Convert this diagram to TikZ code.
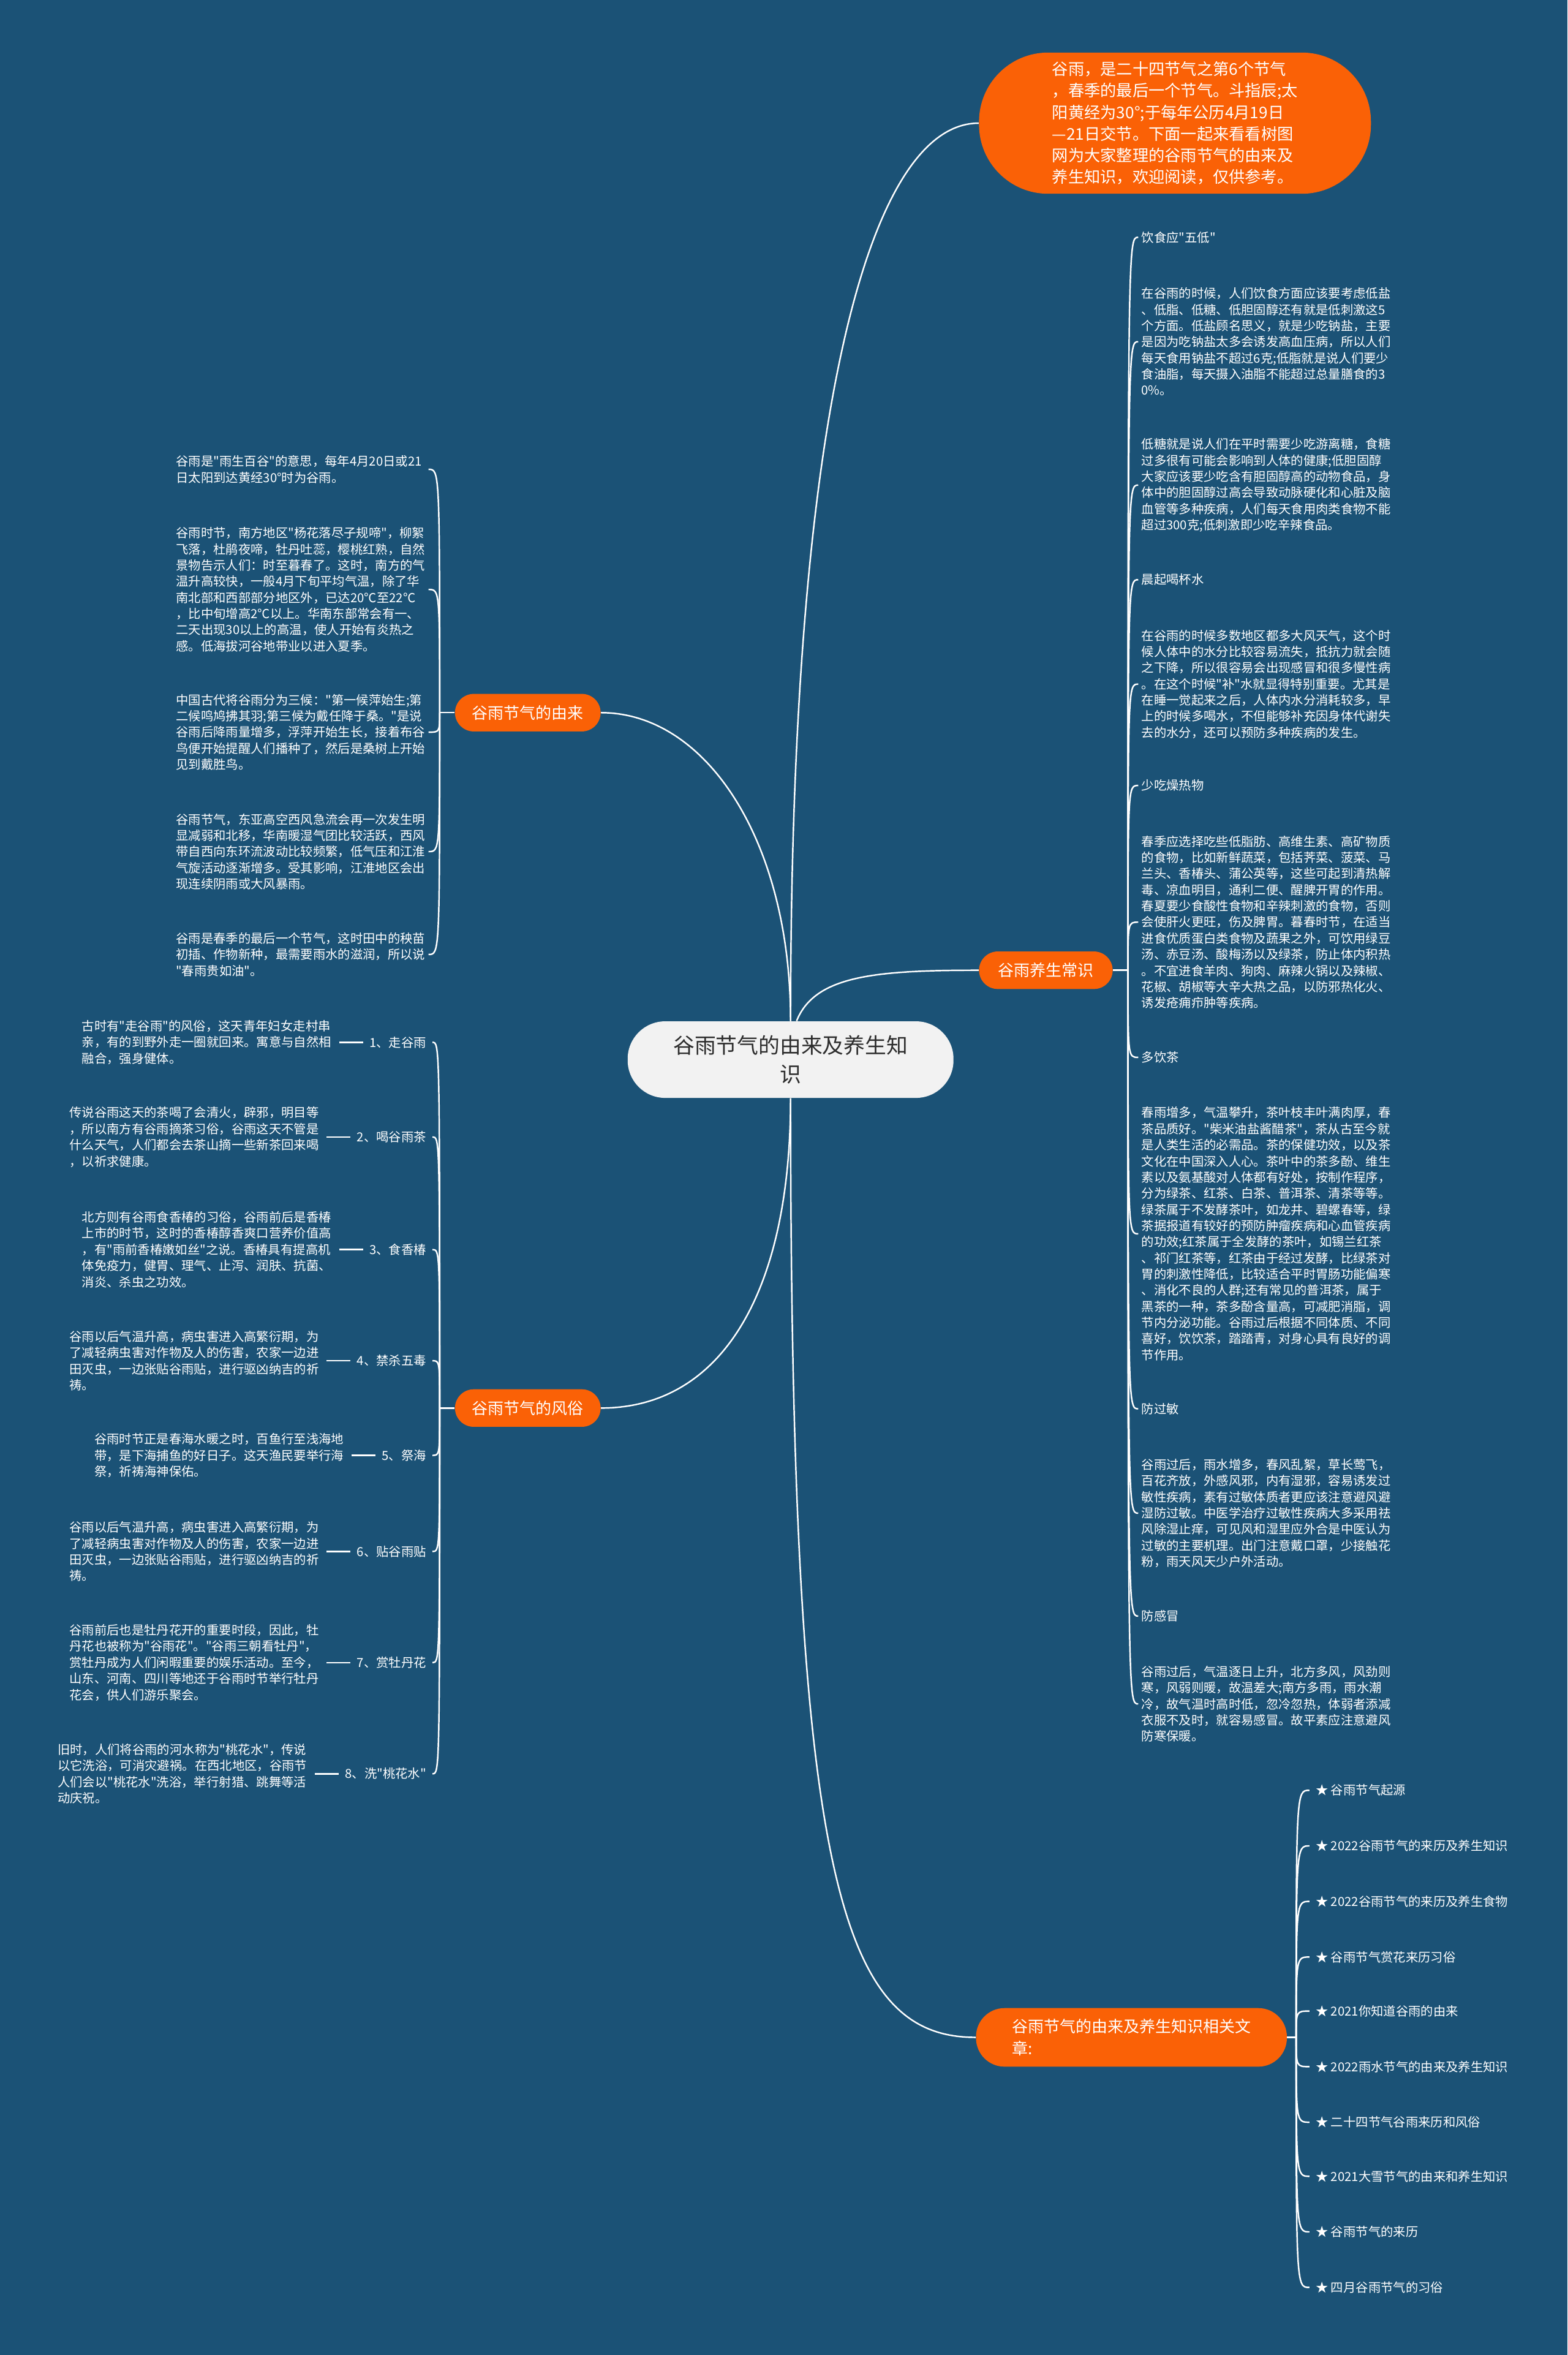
\documentclass[tikz,border=0pt]{standalone}
\usepackage{fontspec}
\setmainfont{Noto Sans CJK SC}[Ligatures=TeXOff]
\usetikzlibrary{positioning}

\definecolor{mapblue}{RGB}{27,82,118}
\definecolor{maporange}{RGB}{250,97,6}
\definecolor{rootfill}{RGB}{242,242,242}
\definecolor{roottext}{RGB}{45,45,45}

\begin{document}
\begin{tikzpicture}[
    x=1pt, y=-1pt,
    link/.style={draw=white, line width=1pt},
    elbow/.style={to path={.. controls (\tikztostart |- \tikztotarget) .. (\tikztotarget)}},
    root/.style={fill=rootfill, text=roottext, rounded corners=25pt, minimum width=217pt, minimum height=51pt, align=center, font=\fontsize{14.2}{19}\selectfont},
    branch/.style={fill=maporange, text=white, rounded corners=12.5pt, minimum width=97pt, minimum height=25pt, font=\fontsize{10.6}{14.4}\selectfont},
    para/.style={text=white, align=left, text width=166pt, inner xsep=2pt, inner ysep=1pt, font=\fontsize{8.3}{10.75}\selectfont},
    tag/.style={text=white, inner xsep=4pt, inner ysep=1pt, font=\fontsize{8.3}{10.75}\selectfont},
    story/.style={text=white, align=left, inner xsep=5pt, inner ysep=1pt, font=\fontsize{8.3}{10.8}\selectfont}
  ]
    \fill[mapblue] (0,0) rectangle (1044,1568);
    \useasboundingbox (0,0) rectangle (1044,1568);

    % main topic and branches
    \node[root] (root) at (526.5,705.5) {谷雨节气的由来及养生知\\识};
    \node[branch, minimum width=261pt, minimum height=94pt, rounded corners=46pt, align=left, font=\fontsize{10.7}{14.4}\selectfont] (intro) at (782.5,82) {谷雨，是二十四节气之第6个节气\\，春季的最后一个节气。斗指辰;太\\阳黄经为30°;于每年公历4月19日\\—21日交节。下面一起来看看树图\\网为大家整理的谷雨节气的由来及\\养生知识，欢迎阅读，仅供参考。};
    \node[branch] (origin) at (351.5,474.5) {谷雨节气的由来};
    \node[branch, minimum width=89pt] (care) at (696.5,646) {谷雨养生常识};
    \node[branch] (custom) at (351.5,937.5) {谷雨节气的风俗};
    \node[branch, minimum width=207pt, minimum height=39pt, rounded corners=19pt, align=left, font=\fontsize{10.6}{15}\selectfont] (related) at (753.5,1356.5) {谷雨节气的由来及养生知识相关文\\章:};

    \coordinate[left=10pt of origin] (j1);
    \coordinate[right=10pt of care] (j2);
    \coordinate[right=6pt of related] (j3);
    \coordinate[left=10pt of custom] (j4);

    \draw[link] (root.north) .. controls +(0,-420) and +(-70,0) .. (intro.west);
    \draw[link] (root.north) .. controls +(0,-120) and +(70,0) .. (origin.east);
    \draw[link] ([xshift=4pt]root.north) .. controls +(12,-30) and +(-70,0) .. (care.west);
    \draw[link] (root.south) .. controls +(0,130) and +(80,0) .. (custom.east);
    \draw[link] (root.south) .. controls +(0,520) and +(-90,0) .. (related.west);

    \draw[link] (origin) -- (j1);
    \draw[link] (care) -- (j2);
    \draw[link] (related) -- (j3);
    \draw[link] (custom) -- (j4);

    % 由来
    \node[para, anchor=west] (o1) at (115,312.5) {谷雨是"雨生百谷"的意思，每年4月20日或21\\日太阳到达黄经30°时为谷雨。};
    \node[para, anchor=west] (o2) at (115,392.5) {谷雨时节，南方地区"杨花落尽子规啼"，柳絮\\飞落，杜鹃夜啼，牡丹吐蕊，樱桃红熟，自然\\景物告示人们：时至暮春了。这时，南方的气\\温升高较快，一般4月下旬平均气温，除了华\\南北部和西部部分地区外，已达20℃至22℃\\，比中旬增高2℃以上。华南东部常会有一、\\二天出现30以上的高温，使人开始有炎热之\\感。低海拔河谷地带业以进入夏季。};
    \node[para, anchor=west] (o3) at (115,487.5) {中国古代将谷雨分为三候："第一候萍始生;第\\二候鸣鸠拂其羽;第三候为戴任降于桑。"是说\\谷雨后降雨量增多，浮萍开始生长，接着布谷\\鸟便开始提醒人们播种了，然后是桑树上开始\\见到戴胜鸟。};
    \node[para, anchor=west] (o4) at (115,567) {谷雨节气，东亚高空西风急流会再一次发生明\\显减弱和北移，华南暖湿气团比较活跃，西风\\带自西向东环流波动比较频繁，低气压和江淮\\气旋活动逐渐增多。受其影响，江淮地区会出\\现连续阴雨或大风暴雨。};
    \node[para, anchor=west] (o5) at (115,635.5) {谷雨是春季的最后一个节气，这时田中的秧苗\\初插、作物新种，最需要雨水的滋润，所以说\\"春雨贵如油"。};

    \draw[link] (j1) to[elbow] (o1.east);
    \draw[link] (j1) to[elbow] (o2.east);
    \draw[link] (j1) to[elbow] (o3.east);
    \draw[link] (j1) to[elbow] (o4.east);
    \draw[link] (j1) to[elbow] (o5.east);

    % 养生常识
    \node[para, anchor=west] (c1) at (758,158) {饮食应"五低"};
    \node[para, anchor=west] (c2) at (758,227.5) {在谷雨的时候，人们饮食方面应该要考虑低盐\\、低脂、低糖、低胆固醇还有就是低刺激这5\\个方面。低盐顾名思义，就是少吃钠盐，主要\\是因为吃钠盐太多会诱发高血压病，所以人们\\每天食用钠盐不超过6克;低脂就是说人们要少\\食油脂，每天摄入油脂不能超过总量膳食的3\\0\%。};
    \node[para, anchor=west] (c3) at (758,323) {低糖就是说人们在平时需要少吃游离糖，食糖\\过多很有可能会影响到人体的健康;低胆固醇\\大家应该要少吃含有胆固醇高的动物食品，身\\体中的胆固醇过高会导致动脉硬化和心脏及脑\\血管等多种疾病，人们每天食用肉类食物不能\\超过300克;低刺激即少吃辛辣食品。};
    \node[para, anchor=west] (c4) at (758,386) {晨起喝杯水};
    \node[para, anchor=west] (c5) at (758,455.5) {在谷雨的时候多数地区都多大风天气，这个时\\候人体中的水分比较容易流失，抵抗力就会随\\之下降，所以很容易会出现感冒和很多慢性病\\。在这个时候"补"水就显得特别重要。尤其是\\在睡一觉起来之后，人体内水分消耗较多，早\\上的时候多喝水，不但能够补充因身体代谢失\\去的水分，还可以预防多种疾病的发生。};
    \node[para, anchor=west] (c6) at (758,523) {少吃燥热物};
    \node[para, anchor=west] (c7) at (758,614) {春季应选择吃些低脂肪、高维生素、高矿物质\\的食物，比如新鲜蔬菜，包括荠菜、菠菜、马\\兰头、香椿头、蒲公英等，这些可起到清热解\\毒、凉血明目，通利二便、醒脾开胃的作用。\\春夏要少食酸性食物和辛辣刺激的食物，否则\\会使肝火更旺，伤及脾胃。暮春时节，在适当\\进食优质蛋白类食物及蔬果之外，可饮用绿豆\\汤、赤豆汤、酸梅汤以及绿茶，防止体内积热\\。不宜进食羊肉、狗肉、麻辣火锅以及辣椒、\\花椒、胡椒等大辛大热之品，以防邪热化火、\\诱发疮痈疖肿等疾病。};
    \node[para, anchor=west] (c8) at (758,704) {多饮茶};
    \node[para, anchor=west] (c9) at (758,821.5) {春雨增多，气温攀升，茶叶枝丰叶满肉厚，春\\茶品质好。"柴米油盐酱醋茶"，茶从古至今就\\是人类生活的必需品。茶的保健功效，以及茶\\文化在中国深入人心。茶叶中的茶多酚、维生\\素以及氨基酸对人体都有好处，按制作程序，\\分为绿茶、红茶、白茶、普洱茶、清茶等等。\\绿茶属于不发酵茶叶，如龙井、碧螺春等，绿\\茶据报道有较好的预防肿瘤疾病和心血管疾病\\的功效;红茶属于全发酵的茶叶，如锡兰红茶\\、祁门红茶等，红茶由于经过发酵，比绿茶对\\胃的刺激性降低，比较适合平时胃肠功能偏寒\\、消化不良的人群;还有常见的普洱茶，属于\\黑茶的一种，茶多酚含量高，可减肥消脂，调\\节内分泌功能。谷雨过后根据不同体质、不同\\喜好，饮饮茶，踏踏青，对身心具有良好的调\\节作用。};
    \node[para, anchor=west] (c10) at (758,938) {防过敏};
    \node[para, anchor=west] (c11) at (758,1007.5) {谷雨过后，雨水增多，春风乱絮，草长莺飞，\\百花齐放，外感风邪，内有湿邪，容易诱发过\\敏性疾病，素有过敏体质者更应该注意避风避\\湿防过敏。中医学治疗过敏性疾病大多采用祛\\风除湿止痒，可见风和湿里应外合是中医认为\\过敏的主要机理。出门注意戴口罩，少接触花\\粉，雨天风天少户外活动。};
    \node[para, anchor=west] (c12) at (758,1076) {防感冒};
    \node[para, anchor=west] (c13) at (758,1134.5) {谷雨过后，气温逐日上升，北方多风，风劲则\\寒，风弱则暖，故温差大;南方多雨，雨水潮\\冷，故气温时高时低，忽冷忽热，体弱者添减\\衣服不及时，就容易感冒。故平素应注意避风\\防寒保暖。};

    \draw[link] (j2) to[elbow] (c1.west);
    \draw[link] (j2) to[elbow] (c2.west);
    \draw[link] (j2) to[elbow] (c3.west);
    \draw[link] (j2) to[elbow] (c4.west);
    \draw[link] (j2) to[elbow] (c5.west);
    \draw[link] (j2) to[elbow] (c6.west);
    \draw[link] (j2) to[elbow] (c7.west);
    \draw[link] (j2) to[elbow] (c8.west);
    \draw[link] (j2) to[elbow] (c9.west);
    \draw[link] (j2) to[elbow] (c10.west);
    \draw[link] (j2) to[elbow] (c11.west);
    \draw[link] (j2) to[elbow] (c12.west);
    \draw[link] (j2) to[elbow] (c13.west);

    % 风俗
    \node[tag, anchor=east] (f1) at (288,694) {1、走谷雨};
    \node[tag, anchor=east] (f2) at (288,757) {2、喝谷雨茶};
    \node[tag, anchor=east] (f3) at (288,832) {3、食香椿};
    \node[tag, anchor=east] (f4) at (288,906) {4、禁杀五毒};
    \node[tag, anchor=east] (f5) at (288,969) {5、祭海};
    \node[tag, anchor=east] (f6) at (288,1033) {6、贴谷雨贴};
    \node[tag, anchor=east] (f7) at (288,1107) {7、赏牡丹花};
    \node[tag, anchor=east] (f8) at (288,1181) {8、洗"桃花水"};

    \node[story, left=16pt of f1] (s1) {古时有"走谷雨"的风俗，这天青年妇女走村串\\亲，有的到野外走一圈就回来。寓意与自然相\\融合，强身健体。};
    \node[story, left=16pt of f2] (s2) {传说谷雨这天的茶喝了会清火，辟邪，明目等\\，所以南方有谷雨摘茶习俗，谷雨这天不管是\\什么天气，人们都会去茶山摘一些新茶回来喝\\，以祈求健康。};
    \node[story, left=16pt of f3] (s3) {北方则有谷雨食香椿的习俗，谷雨前后是香椿\\上市的时节，这时的香椿醇香爽口营养价值高\\，有"雨前香椿嫩如丝"之说。香椿具有提高机\\体免疫力，健胃、理气、止泻、润肤、抗菌、\\消炎、杀虫之功效。};
    \node[story, left=16pt of f4] (s4) {谷雨以后气温升高，病虫害进入高繁衍期，为\\了减轻病虫害对作物及人的伤害，农家一边进\\田灭虫，一边张贴谷雨贴，进行驱凶纳吉的祈\\祷。};
    \node[story, left=16pt of f5] (s5) {谷雨时节正是春海水暖之时，百鱼行至浅海地\\带，是下海捕鱼的好日子。这天渔民要举行海\\祭，祈祷海神保佑。};
    \node[story, left=16pt of f6] (s6) {谷雨以后气温升高，病虫害进入高繁衍期，为\\了减轻病虫害对作物及人的伤害，农家一边进\\田灭虫，一边张贴谷雨贴，进行驱凶纳吉的祈\\祷。};
    \node[story, left=16pt of f7] (s7) {谷雨前后也是牡丹花开的重要时段，因此，牡\\丹花也被称为"谷雨花"。"谷雨三朝看牡丹"，\\赏牡丹成为人们闲暇重要的娱乐活动。至今，\\山东、河南、四川等地还于谷雨时节举行牡丹\\花会，供人们游乐聚会。};
    \node[story, left=16pt of f8] (s8) {旧时，人们将谷雨的河水称为"桃花水"，传说\\以它洗浴，可消灾避祸。在西北地区，谷雨节\\人们会以"桃花水"洗浴，举行射猎、跳舞等活\\动庆祝。};

    \draw[link] (j4) to[elbow] (f1.east);
    \draw[link] (j4) to[elbow] (f2.east);
    \draw[link] (j4) to[elbow] (f3.east);
    \draw[link] (j4) to[elbow] (f4.east);
    \draw[link] (j4) to[elbow] (f5.east);
    \draw[link] (j4) to[elbow] (f6.east);
    \draw[link] (j4) to[elbow] (f7.east);
    \draw[link] (j4) to[elbow] (f8.east);

    \draw[link] (s1) -- (f1);
    \draw[link] (s2) -- (f2);
    \draw[link] (s3) -- (f3);
    \draw[link] (s4) -- (f4);
    \draw[link] (s5) -- (f5);
    \draw[link] (s6) -- (f6);
    \draw[link] (s7) -- (f7);
    \draw[link] (s8) -- (f8);

    % 相关文章
    \node[tag, anchor=west] (r1) at (872,1192) {★ 谷雨节气起源};
    \node[tag, anchor=west] (r2) at (872,1229) {★ 2022谷雨节气的来历及养生知识};
    \node[tag, anchor=west] (r3) at (872,1266) {★ 2022谷雨节气的来历及养生食物};
    \node[tag, anchor=west] (r4) at (872,1303) {★ 谷雨节气赏花来历习俗};
    \node[tag, anchor=west] (r5) at (872,1339) {★ 2021你知道谷雨的由来};
    \node[tag, anchor=west] (r6) at (872,1376) {★ 2022雨水节气的由来及养生知识};
    \node[tag, anchor=west] (r7) at (872,1413) {★ 二十四节气谷雨来历和风俗};
    \node[tag, anchor=west] (r8) at (872,1449) {★ 2021大雪节气的由来和养生知识};
    \node[tag, anchor=west] (r9) at (872,1486) {★ 谷雨节气的来历};
    \node[tag, anchor=west] (r10) at (872,1523) {★ 四月谷雨节气的习俗};

    \draw[link] (j3) to[elbow] (r1.west);
    \draw[link] (j3) to[elbow] (r2.west);
    \draw[link] (j3) to[elbow] (r3.west);
    \draw[link] (j3) to[elbow] (r4.west);
    \draw[link] (j3) to[elbow] (r5.west);
    \draw[link] (j3) to[elbow] (r6.west);
    \draw[link] (j3) to[elbow] (r7.west);
    \draw[link] (j3) to[elbow] (r8.west);
    \draw[link] (j3) to[elbow] (r9.west);
    \draw[link] (j3) to[elbow] (r10.west);
  \end{tikzpicture}
\end{document}
